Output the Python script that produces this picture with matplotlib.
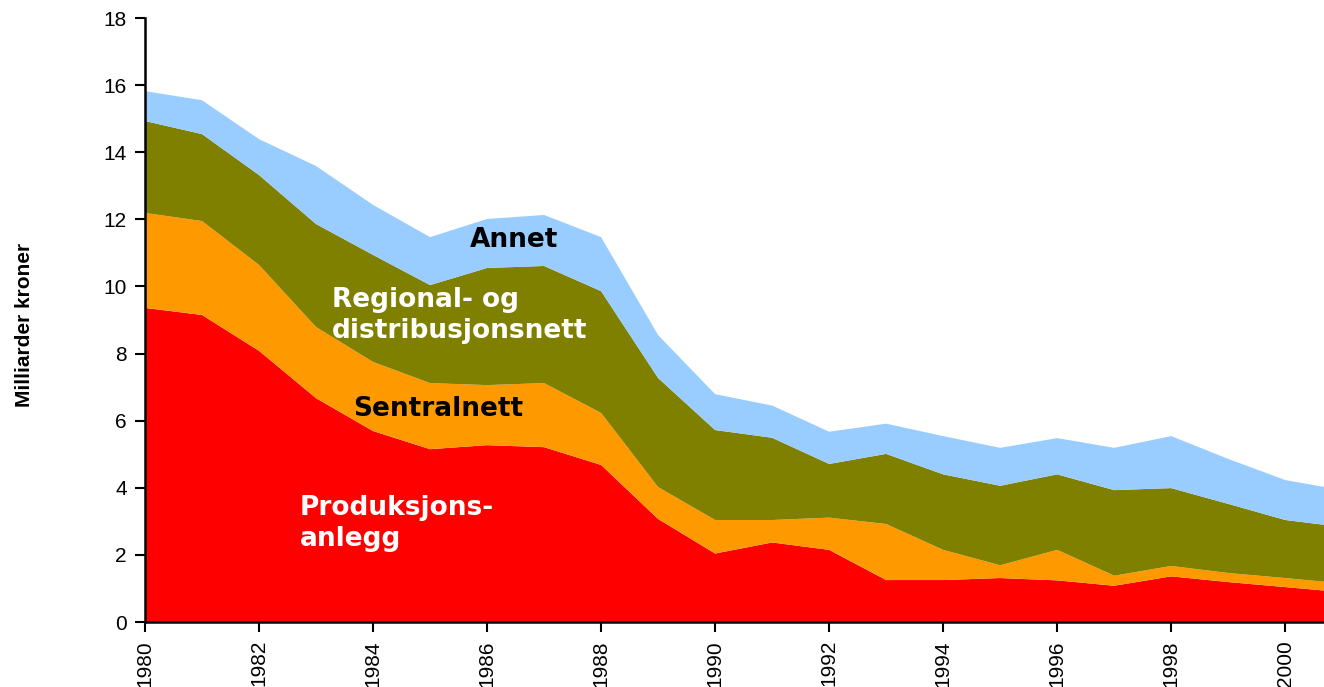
import matplotlib
matplotlib.use("Agg")
import matplotlib.pyplot as plt
from matplotlib import font_manager

years = list(range(1980, 2002))
produksjon = [9.36, 9.15, 8.08, 6.67, 5.69, 5.15, 5.27, 5.21, 4.68, 3.07, 2.04, 2.37,
              2.15, 1.25, 1.25, 1.31, 1.24, 1.08, 1.36, 1.19, 1.04, 0.89]
sentral_top = [12.19, 11.95, 10.64, 8.79, 7.75, 7.12, 7.06, 7.12, 6.23, 4.02, 3.04, 3.04,
               3.11, 2.92, 2.15, 1.69, 2.15, 1.38, 1.67, 1.46, 1.31, 1.15]
regional_top = [14.93, 14.54, 13.32, 11.86, 10.94, 10.04, 10.55, 10.61, 9.86, 7.27, 5.72, 5.49,
                4.71, 5.01, 4.40, 4.06, 4.40, 3.93, 3.99, 3.52, 3.04, 2.83]
total = [15.82, 15.55, 14.39, 13.59, 12.43, 11.47, 12.01, 12.13, 11.47, 8.55, 6.79, 6.45,
         5.67, 5.91, 5.54, 5.19, 5.48, 5.19, 5.54, 4.86, 4.23, 3.93]

sentralnett = [b - a for a, b in zip(produksjon, sentral_top)]
regional = [b - a for a, b in zip(sentral_top, regional_top)]
annet = [b - a for a, b in zip(regional_top, total)]

colors = ["#FF0000", "#FF9900", "#808000", "#99CCFF"]
xticks = list(range(1980, 2001, 2))
yticks = list(range(0, 19, 2))

names = {f.name for f in font_manager.fontManager.ttflist}
base = "Liberation Sans" if "Liberation Sans" in names else "DejaVu Sans"
narrow = "Liberation Sans Narrow" if "Liberation Sans Narrow" in names else base
plt.rcParams["font.family"] = [base, "DejaVu Sans"]

fig = plt.figure(figsize=(13.24, 6.87), dpi=100)
ax = fig.add_axes([145/1324, 65/687, 1179/1324, 604/687])
ax.stackplot(years, produksjon, sentralnett, regional, annet, colors=colors, linewidth=0)

ax.set_xlim(1980, 2000.68)
ax.set_ylim(0, 18)
ax.set_xticks(xticks)
ax.set_xticklabels([str(y) for y in xticks], rotation=90, fontsize=15, family=narrow)
ax.set_yticks(yticks)
ax.set_yticklabels([str(y) for y in yticks], fontsize=15)
ax.tick_params(axis="both", direction="out", length=7, width=1.5, pad=6)
for s in ["top", "right"]:
    ax.spines[s].set_visible(False)
for s in ["left", "bottom"]:
    ax.spines[s].set_linewidth(1.8)

fig.text(25/1324, 1 - 325/687, "Milliarder kroner", rotation=90, fontsize=15,
         fontweight="bold", ha="center", va="center", family=narrow)

lab = dict(fontsize=19, fontweight="bold", family=["DejaVu Sans"])
ax.text(1986.47, 11.38, "Annet", color="black", ha="center", va="center", **lab)
ax.text(1983.28, 9.12, "Regional- og\ndistribusjonsnett", color="white",
        ha="left", va="center", linespacing=1.25, **lab)
ax.text(1985.14, 6.36, "Sentralnett", color="black", ha="center", va="center", **lab)
ax.text(1982.72, 2.95, "Produksjons-\nanlegg", color="white",
        ha="left", va="center", linespacing=1.25, **lab)

fig.savefig("out.png", dpi=100)
